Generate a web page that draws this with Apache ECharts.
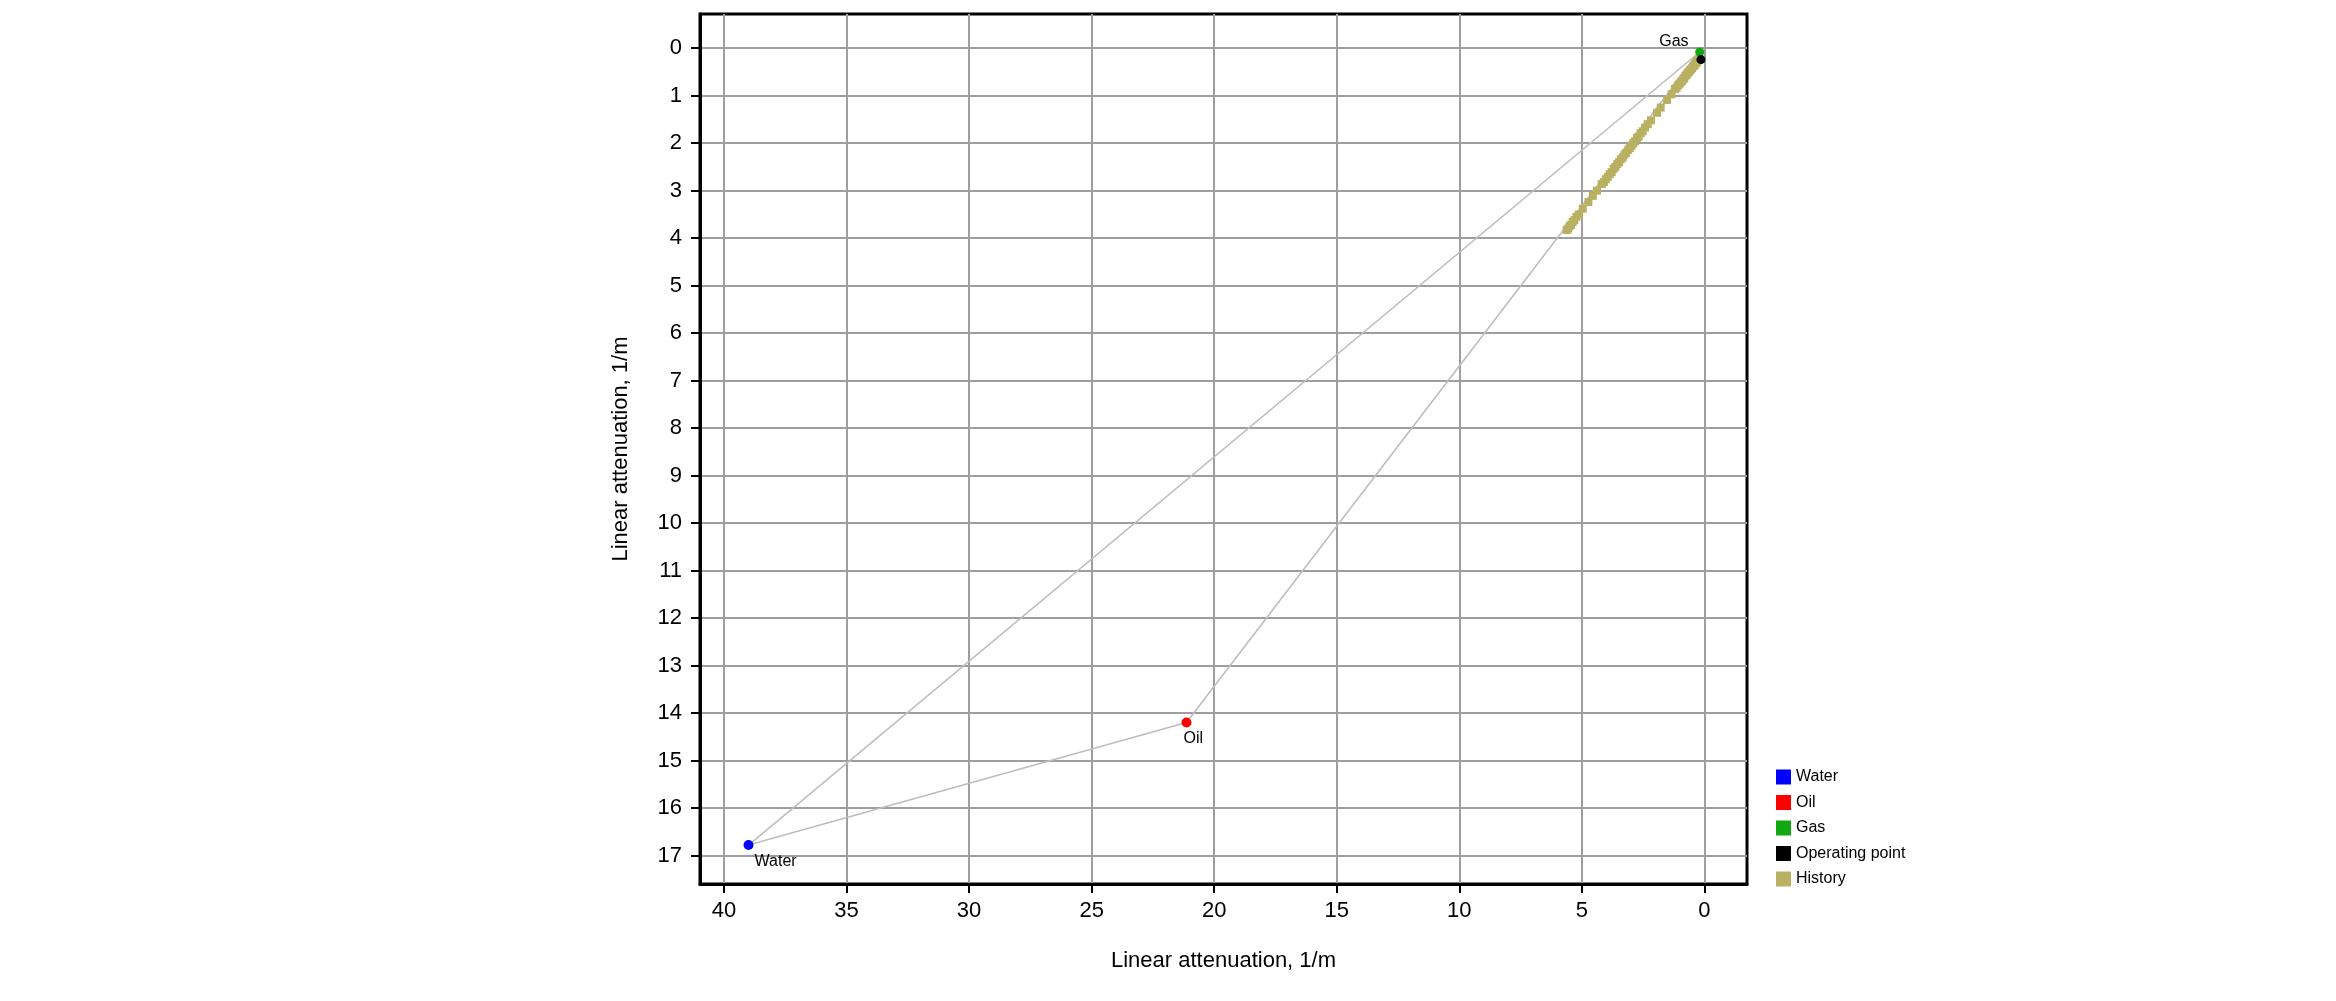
<!DOCTYPE HTML>
<html lang="en">

<head>
	<meta charset="utf-8">
	<title>Linear attenuation</title>
	<style>
		html, body {
			margin: 0;
			padding: 0;
			background: #fff;
		}

		.chart {
			width: 2336px;
			height: 1001px;
		}
	</style>
</head>

<body>
	<div class="chart"></div>

	<script src="https://cdn.jsdelivr.net/npm/echarts@6/dist/echarts.min.js"></script>
	<script>
		// tick labels
		var xTicks = [0, 5, 10, 15, 20, 25, 30, 35, 40];
		var yTicks = [0, 1, 2, 3, 4, 5, 6, 7, 8, 9, 10, 11, 12, 13, 14, 15, 16, 17];

		// fluid points [x, y]
		var water = [39.0, 16.78];
		var oil = [21.13, 14.2];
		var gas = [0.19, 0.08];
		var operatingPoint = [0.14, 0.24];

		// measurement history (name must not clash with window.history)
		var historyPoints = [
			[0.20, 0.21], [0.24, 0.25], [0.28, 0.26], [0.31, 0.30], [0.35, 0.31],
			[0.38, 0.34], [0.42, 0.37], [0.46, 0.38], [0.50, 0.42], [0.55, 0.45],
			[0.59, 0.46], [0.63, 0.50], [0.68, 0.52], [0.72, 0.56], [0.77, 0.58],
			[0.82, 0.63], [0.86, 0.65], [0.91, 0.69], [0.96, 0.71], [1.01, 0.75],
			[1.07, 0.78], [1.13, 0.83], [1.20, 0.86], [1.34, 0.97], [1.52, 1.09],
			[1.78, 1.25], [1.93, 1.36], [2.18, 1.52], [2.31, 1.60], [2.42, 1.67],
			[2.52, 1.75], [2.60, 1.79], [2.68, 1.86], [2.75, 1.89], [2.83, 1.96],
			[2.90, 2.00], [2.97, 2.05], [3.04, 2.10], [3.11, 2.14], [3.19, 2.20],
			[3.26, 2.24], [3.33, 2.30], [3.41, 2.34], [3.48, 2.40], [3.55, 2.44],
			[3.63, 2.50], [3.70, 2.54], [3.78, 2.61], [3.86, 2.65], [3.94, 2.71],
			[4.02, 2.76], [4.10, 2.82], [4.19, 2.86], [4.38, 3.00], [4.55, 3.11],
			[4.73, 3.24], [4.96, 3.38], [5.12, 3.50], [5.22, 3.55], [5.30, 3.62],
			[5.37, 3.66], [5.44, 3.72], [5.50, 3.75], [5.56, 3.80], [5.62, 3.83]
		];

		var font = 'Liberation Sans, Arial, sans-serif';
		var chart = echarts.init(document.querySelector('.chart'));

		chart.setOption({
			animation: false,
			textStyle: { fontFamily: font },
			grid: {
				left: 700,
				top: 14,
				width: 1047,
				height: 870,
				show: true,
				borderColor: '#000',
				borderWidth: 3
			},
			legend: {
				orient: 'vertical',
				left: 1771,
				top: 764,
				itemWidth: 15,
				itemHeight: 15,
				itemGap: 9.5,
				icon: 'rect',
				data: ['Water', 'Oil', 'Gas', 'Operating point', 'History'],
				textStyle: { fontSize: 16, color: '#000', fontFamily: font }
			},
			xAxis: {
				type: 'value',
				inverse: true,
				min: -1.74,
				max: 40.98,
				splitNumber: 9,
				name: 'Linear attenuation, 1/m',
				nameLocation: 'middle',
				nameGap: 66,
				nameTextStyle: { fontSize: 22, color: '#000' },
				axisLine: { onZero: false, lineStyle: { color: '#000', width: 3 } },
				axisTick: { customValues: xTicks, length: 9, lineStyle: { color: '#000', width: 2 } },
				axisLabel: { customValues: xTicks, margin: 16, fontSize: 22, color: '#000' },
				splitLine: { lineStyle: { color: '#9e9e9e', width: 2 } }
			},
			yAxis: {
				type: 'value',
				inverse: true,
				min: -0.72,
				max: 17.6,
				splitNumber: 18,
				name: 'Linear attenuation, 1/m',
				nameLocation: 'middle',
				nameGap: 68,
				nameTextStyle: { fontSize: 22, color: '#000' },
				axisLine: { onZero: false, lineStyle: { color: '#000', width: 3 } },
				axisTick: { customValues: yTicks, length: 9, lineStyle: { color: '#000', width: 2 } },
				axisLabel: {
					customValues: yTicks, margin: 18, fontSize: 22, color: '#000',
					padding: [0, 0, 14, 0]
				},
				splitLine: { lineStyle: { color: '#9e9e9e', width: 2 } }
			},
			series: [
				{
					name: 'Triangle',
					type: 'line',
					data: [water, oil, gas, water],
					symbol: 'none',
					silent: true,
					lineStyle: { color: '#bdbdbd', width: 1.6 },
					z: 2
				},
				{
					name: 'History',
					type: 'scatter',
					data: historyPoints,
					symbol: 'rect',
					symbolSize: 8,
					itemStyle: { color: '#b9b062', opacity: 1 },
					z: 3
				},
				{
					name: 'Water',
					type: 'scatter',
					data: [water],
					symbolSize: 10,
					itemStyle: { color: '#0000ff', opacity: 1 },
					label: {
						show: true, formatter: 'Water', position: [11, 14],
						fontSize: 16, color: '#000'
					},
					z: 4
				},
				{
					name: 'Oil',
					type: 'scatter',
					data: [oil],
					symbolSize: 10,
					itemStyle: { color: '#ff0000', opacity: 1 },
					label: {
						show: true, formatter: 'Oil', position: [2, 13],
						fontSize: 16, color: '#000'
					},
					z: 4
				},
				{
					name: 'Gas',
					type: 'scatter',
					data: [gas],
					symbolSize: 9,
					itemStyle: { color: '#12a812', opacity: 1 },
					label: {
						show: true, formatter: 'Gas', position: [-36, -14],
						fontSize: 16, color: '#000'
					},
					z: 4
				},
				{
					name: 'Operating point',
					type: 'scatter',
					data: [operatingPoint],
					symbolSize: 9,
					itemStyle: { color: '#000', opacity: 1 },
					z: 5
				}
			]
		});
	</script>
</body>

</html>
